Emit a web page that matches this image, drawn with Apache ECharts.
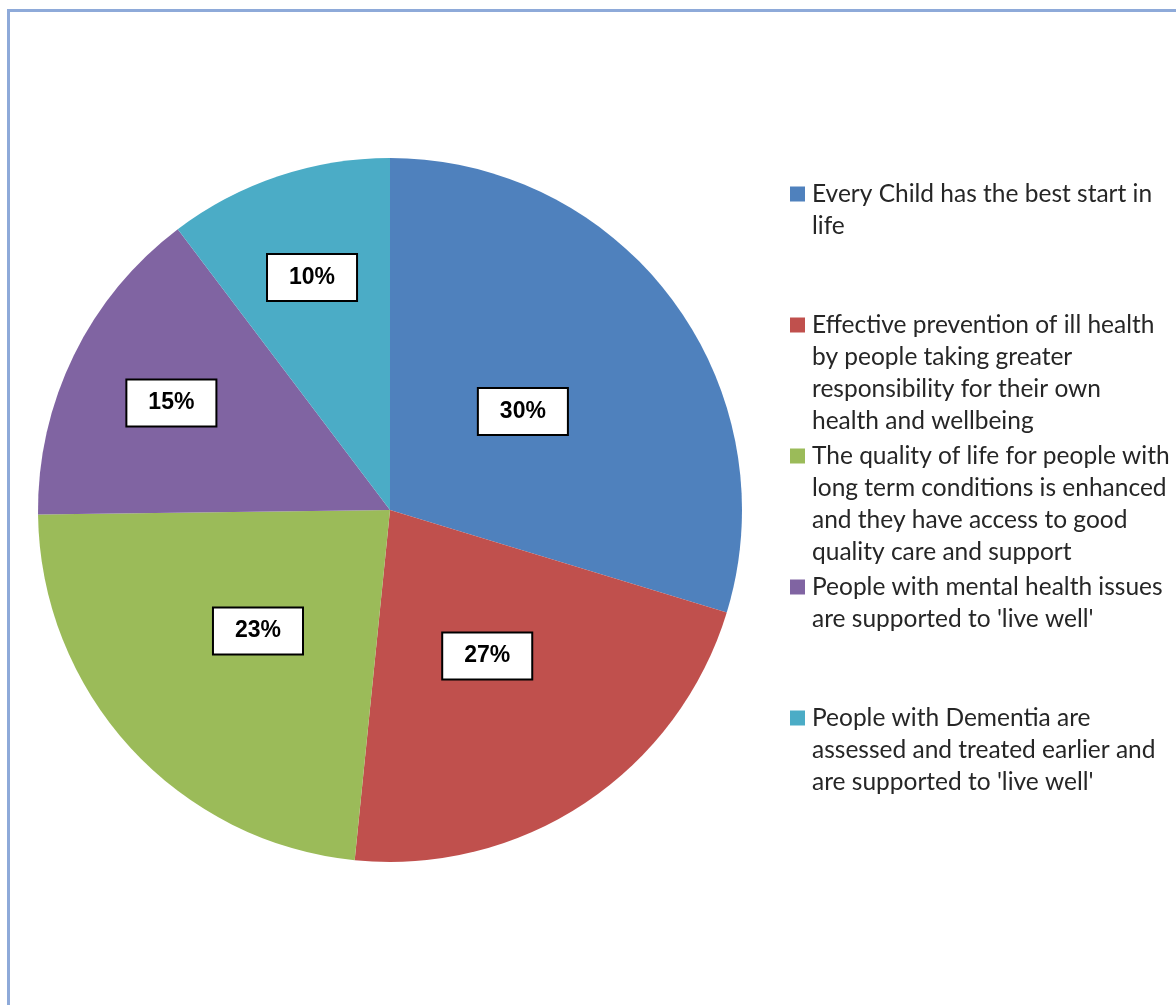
<!DOCTYPE html>
<html lang="en">
<head>
<meta charset="UTF-8">
<title>Priorities pie</title>
<script src="https://cdn.jsdelivr.net/npm/echarts@6/dist/echarts.min.js"></script>
<style>
    html, body { margin: 0; padding: 0; background: #fff; overflow: hidden; }
    #frame { position: absolute; left: 7px; top: 9px; width: 1300px; height: 1100px; border: 3px solid #8eaad9; }
    #main { position: absolute; left: 0; top: 0; width: 1176px; height: 1005px; }
</style>
</head>
<body>
<div id="frame"></div>
<div id="main"></div>
<script>
    // slice sizes (percent of the circle)
    var categories = [
        'Every Child has the best start in life',
        'Effective prevention of ill health by people taking greater responsibility for their own health and wellbeing',
        'The quality of life for people with long term conditions is enhanced and they have access to good quality care and support',
        "People with mental health issues are supported to 'live well'",
        "People with Dementia are assessed and treated earlier and are supported to 'live well'"
    ];
    var values = [29.7, 21.9, 23.2, 14.9, 10.3];
    // labels as printed on the chart
    var shownLabels = ['30%', '27%', '23%', '15%', '10%'];
    // legend text, wrapped like the original
    var legendLines = [
        ['Every Child has the best start in', 'life'],
        ['Effective prevention of ill health', 'by people taking greater', 'responsibility for their own', 'health and wellbeing'],
        ['The quality of life for people with', 'long term conditions is enhanced', 'and they have access to good', 'quality care and support'],
        ['People with mental health issues', "are supported to 'live well'"],
        ['People with Dementia are', 'assessed and treated earlier and', "are supported to 'live well'"]
    ];
    var colors = ['#4f81bd', '#c0504d', '#9bbb59', '#8064a2', '#4bacc6'];

    var cx = 390, cy = 510, R = 352;
    // how far out each label sits, as a share of the radius
    var labelReach = [0.462, 0.49, 0.50, 0.68, 0.685];
    var lineH = 32;
    var firstLine = [194, 325, 456, 587, 718];
    var legendFont = { fontFamily: 'Lato', fontSize: 24.5, color: '#262626', lineHeight: lineH };

    var chart = echarts.init(document.getElementById('main'));

    // continuation lines of each legend entry
    var titles = legendLines.map(function (lines, i) {
        return {
            text: lines.slice(1).join('\n'),
            left: 812,
            top: firstLine[i] + lineH / 2,
            padding: 0,
            textStyle: Object.assign({ fontWeight: 'normal' }, legendFont)
        };
    });

    var option = {
        animation: false,
        color: colors,
        title: titles,
        legend: {
            data: categories,
            left: 790,
            top: firstLine[0] - lineH / 2,
            padding: 0,
            orient: 'vertical',
            icon: 'rect',
            itemWidth: 15,
            itemHeight: 15,
            itemGap: 131 - lineH,
            selectedMode: false,
            formatter: function (name) {
                return legendLines[categories.indexOf(name)][0];
            },
            textStyle: Object.assign({ padding: [0, 0, 0, 2] }, legendFont)
        },
        series: [{
            type: 'pie',
            center: [cx, cy],
            radius: [0, R],
            startAngle: 90,
            clockwise: true,
            data: categories.map(function (name, i) {
                return { name: name, value: values[i] };
            }),
            label: {
                show: true,
                position: 'inside',
                formatter: function (p) { return shownLabels[p.dataIndex]; },
                fontFamily: 'Liberation Sans, Arial',
                fontWeight: 'bold',
                fontSize: 23,
                lineHeight: 25,
                color: '#000',
                backgroundColor: '#fff',
                borderColor: '#000',
                borderWidth: 2,
                padding: [10, 21]
            },
            labelLine: { show: false },
            labelLayout: function (p) {
                var r = p.labelRect;
                var mx = r.x + r.width / 2 - cx;
                var my = r.y + r.height / 2 - cy;
                var k = labelReach[p.dataIndex] / 0.5 - 1;
                return { dx: mx * k, dy: my * k };
            },
            itemStyle: { borderWidth: 0 },
            emphasis: { disabled: true }
        }]
    };
    chart.setOption(option);
</script>
</body>
</html>
